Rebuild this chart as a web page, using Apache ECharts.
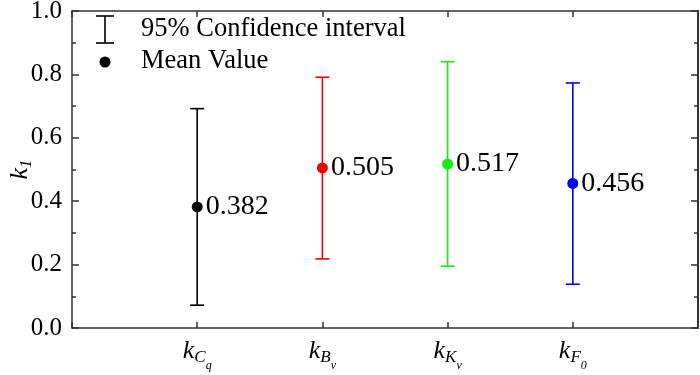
<!DOCTYPE html>
<html><head><meta charset="utf-8">
<script src="https://cdn.jsdelivr.net/npm/echarts@6/dist/echarts.min.js"></script>
<style>html,body{margin:0;padding:0;background:#fff}#c{width:700px;height:375px}</style>
</head><body><div id="c"></div>
<script>
// Data
var categories = ['kCq', 'kBv', 'kKv', 'kF0'];
var subMain = ['C', 'B', 'K', 'F'];
var subSub = ['q', 'v', 'v', '0'];
var meanValues = [0.382, 0.505, 0.517, 0.456];
var lowValues = [0.072, 0.218, 0.195, 0.138];
var highValues = [0.692, 0.791, 0.840, 0.773];
var colors = ['#000000', '#f00000', '#11ee11', '#0000f0'];
var yTicks = [0, 0.2, 0.4, 0.6, 0.8, 1.0];

var FONT = 'Liberation Serif';
var frameColor = '#333';

var errData = categories.map(function (c, i) {
  return { value: [i + 1, lowValues[i], highValues[i]], itemStyle: { color: colors[i] } };
});
var meanData = categories.map(function (c, i) {
  return { value: [i + 1, meanValues[i]], itemStyle: { color: colors[i], opacity: 1 } };
});

var chart = echarts.init(document.getElementById('c'), null, { renderer: 'canvas' });
var option = {
  backgroundColor: '#fff',
  animation: false,
  grid: { left: 72, right: 2, top: 11, bottom: 47, containLabel: false, outerBoundsMode: 'none' },
  xAxis: [{
    type: 'value', min: 0, max: categories.length + 1, interval: 1,
    axisLine: { show: true, onZero: false, lineStyle: { color: frameColor, width: 1.5 } },
    axisTick: { show: true, inside: true, length: 6, lineStyle: { color: frameColor, width: 1.5 } },
    splitLine: { show: false },
    axisLabel: {
      margin: 10,
      formatter: function (v) {
        var i = Math.round(v) - 1;
        if (i < 0 || i >= categories.length) return '';
        return '{k|k}{s|' + subMain[i] + '}{ss|' + subSub[i] + '}';
      },
      rich: {
        k: { fontFamily: FONT, fontStyle: 'italic', fontSize: 26, color: '#000', verticalAlign: 'top', lineHeight: 26 },
        s: { fontFamily: FONT, fontStyle: 'italic', fontSize: 17, color: '#000', verticalAlign: 'top', lineHeight: 18, padding: [11, 0, 0, 0] },
        ss: { fontFamily: FONT, fontStyle: 'italic', fontSize: 12, color: '#000', verticalAlign: 'top', lineHeight: 12, padding: [22, 0, 0, 0] }
      }
    }
  }, {
    type: 'value', position: 'top', min: 0, max: categories.length + 1, interval: 1,
    axisLine: { show: true, onZero: false, lineStyle: { color: frameColor, width: 1.5 } },
    axisTick: { show: true, inside: true, length: 6, lineStyle: { color: frameColor, width: 1.5 } },
    axisLabel: { show: false }, splitLine: { show: false }
  }],
  yAxis: [{
    type: 'value', min: 0, max: 1, interval: 0.2,
    name: '{k|k}{s|1}', nameLocation: 'middle', nameGap: 39, nameRotate: 90, nameMoveOverlap: false,
    nameTextStyle: {
      rich: {
        k: { fontFamily: FONT, fontStyle: 'italic', fontSize: 26, color: '#000', verticalAlign: 'top', lineHeight: 26 },
        s: { fontFamily: FONT, fontStyle: 'italic', fontSize: 17, color: '#000', verticalAlign: 'top', lineHeight: 18, padding: [11, 0, 0, 0] }
      }
    },
    axisLine: { show: true, onZero: false, lineStyle: { color: frameColor, width: 1.5 } },
    axisTick: { show: true, inside: true, length: 7, lineStyle: { color: frameColor, width: 1.5 } },
    minorTick: { show: true, splitNumber: 2, length: 4, lineStyle: { color: frameColor, width: 1.5 } },
    splitLine: { show: false }, minorSplitLine: { show: false },
    axisLabel: {
      margin: 10, fontFamily: FONT, fontSize: 25, color: '#000',
      formatter: function (v) { return yTicks.some(function (t) { return Math.abs(t - v) < 1e-9; }) ? v.toFixed(1) : ''; }
    }
  }, {
    type: 'value', position: 'right', min: 0, max: 1, interval: 0.2,
    axisLine: { show: true, onZero: false, lineStyle: { color: frameColor, width: 2 } },
    axisTick: { show: true, inside: true, length: 7, lineStyle: { color: frameColor, width: 1.5 } },
    minorTick: { show: true, splitNumber: 2, length: 4, lineStyle: { color: frameColor, width: 1.5 } },
    axisLabel: { show: false }, splitLine: { show: false }
  }],
  series: [{
    name: '95% Confidence interval',
    type: 'custom',
    data: errData,
    renderItem: function (params, api) {
      var x = api.value(0);
      var lo = api.coord([x, api.value(1)]);
      var hi = api.coord([x, api.value(2)]);
      var hw = 7;
      var st = { stroke: api.visual('color'), lineWidth: 1.6, fill: null };
      return {
        type: 'group',
        children: [
          { type: 'line', shape: { x1: lo[0], y1: lo[1], x2: hi[0], y2: hi[1] }, style: st },
          { type: 'line', shape: { x1: lo[0] - hw, y1: lo[1], x2: lo[0] + hw, y2: lo[1] }, style: st },
          { type: 'line', shape: { x1: hi[0] - hw, y1: hi[1], x2: hi[0] + hw, y2: hi[1] }, style: st }
        ]
      };
    },
    z: 2
  }, {
    name: 'Mean Value',
    type: 'scatter',
    data: meanData,
    symbol: 'circle',
    symbolSize: 11,
    itemStyle: { opacity: 1 },
    z: 3,
    label: {
      show: true, position: 'right', distance: 3,
      fontFamily: FONT, fontSize: 28, color: '#000',
      formatter: function (p) { return p.value[1].toFixed(3); }
    }
  }],
  graphic: [
    { type: 'line', shape: { x1: 105, y1: 16, x2: 105, y2: 43 }, style: { stroke: '#000', lineWidth: 1.6 } },
    { type: 'line', shape: { x1: 96, y1: 16, x2: 114, y2: 16 }, style: { stroke: '#000', lineWidth: 1.6 } },
    { type: 'line', shape: { x1: 96, y1: 43, x2: 114, y2: 43 }, style: { stroke: '#000', lineWidth: 1.6 } },
    { type: 'circle', shape: { cx: 105, cy: 62, r: 5.5 }, style: { fill: '#000' } },
    { type: 'text', left: 141, top: 16, style: { text: '95% Confidence interval', fontFamily: FONT, fontSize: 26.5, fill: '#000' } },
    { type: 'text', left: 141, top: 48, style: { text: 'Mean Value', fontFamily: FONT, fontSize: 26.5, fill: '#000' } }
  ]
};
chart.setOption(option);
</script></body></html>
